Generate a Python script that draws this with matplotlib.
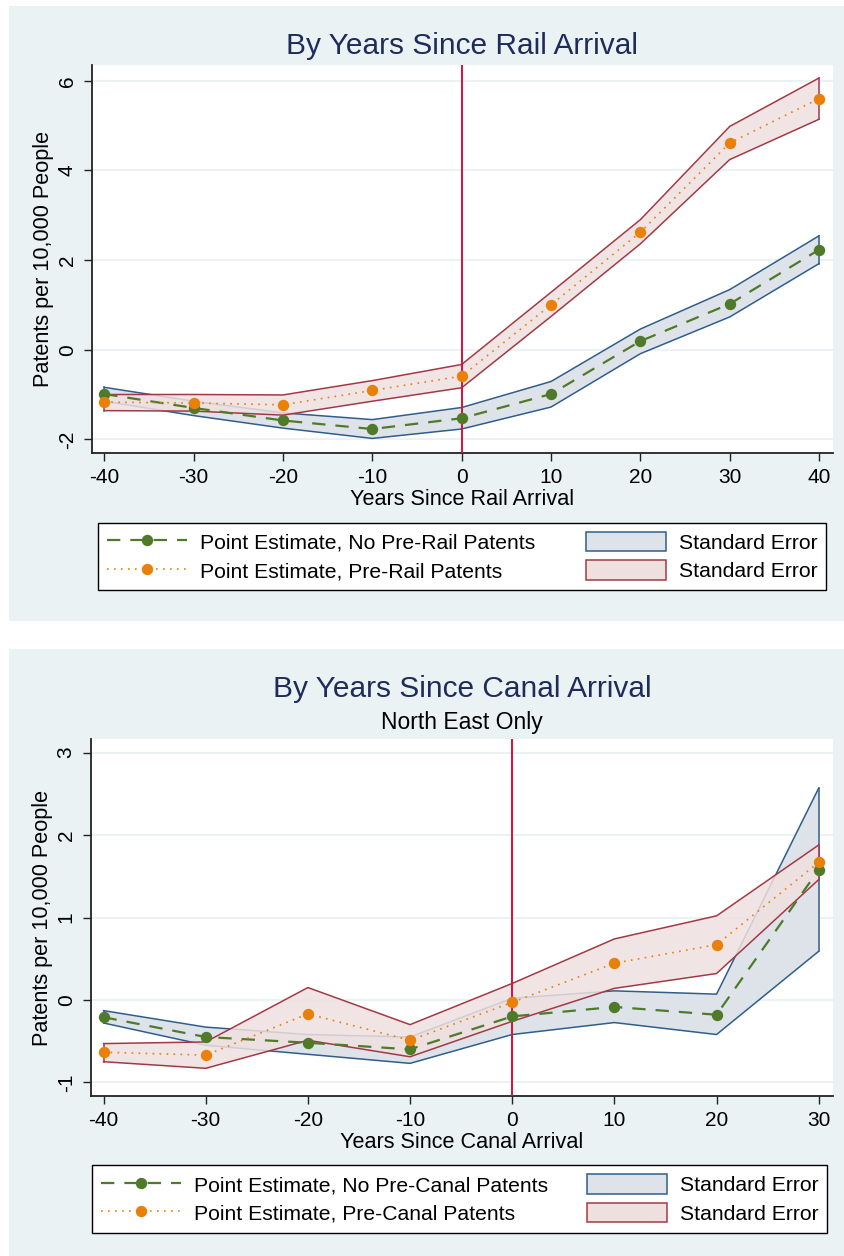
import matplotlib
matplotlib.use("Agg")
import matplotlib.pyplot as plt
from matplotlib.lines import Line2D
from matplotlib.patches import Patch, Rectangle

plt.rcParams['font.family'] = ['Liberation Sans', 'DejaVu Sans']
plt.rcParams['axes.unicode_minus'] = False

# ---------------- data: rail ----------------
rail_years = [-40, -30, -20, -10, 0, 10, 20, 30, 40]
rail_no_pre = [-0.99, -1.30, -1.58, -1.77, -1.53, -0.99, 0.19, 1.02, 2.23]
rail_no_pre_hi = [-0.84, -1.15, -1.41, -1.56, -1.29, -0.71, 0.46, 1.34, 2.54]
rail_no_pre_lo = [-1.15, -1.47, -1.75, -1.98, -1.77, -1.28, -0.09, 0.73, 1.92]
rail_pre = [-1.17, -1.19, -1.23, -0.91, -0.59, 1.00, 2.62, 4.61, 5.60]
rail_pre_hi = [-1.00, -1.00, -1.01, -0.69, -0.33, 1.28, 2.90, 4.98, 6.06]
rail_pre_lo = [-1.36, -1.37, -1.46, -1.15, -0.85, 0.74, 2.36, 4.24, 5.14]
rail_yticks = [-2, 0, 2, 4, 6]

# ---------------- data: canal ----------------
canal_years = [-40, -30, -20, -10, 0, 10, 20, 30]
canal_no_pre = [-0.21, -0.45, -0.52, -0.60, -0.20, -0.085, -0.18, 1.58]
canal_no_pre_hi = [-0.13, -0.33, -0.42, -0.45, 0.02, 0.11, 0.07, 2.57]
canal_no_pre_lo = [-0.28, -0.55, -0.66, -0.77, -0.42, -0.275, -0.42, 0.59]
canal_pre = [-0.635, -0.67, -0.17, -0.49, -0.03, 0.445, 0.67, 1.67]
canal_pre_hi = [-0.53, -0.51, 0.15, -0.30, 0.20, 0.74, 1.02, 1.88]
canal_pre_lo = [-0.75, -0.83, -0.49, -0.69, -0.26, 0.14, 0.32, 1.46]
canal_yticks = [-1, 0, 1, 2, 3]

# ---------------- style ----------------
W, H = 844, 1256
BG = '#EAF2F3'
GREEN = '#4E7A2A'
ORANGE = '#E8800A'
BLUE_EDGE = '#2F5E8C'
BLUE_FILL = '#DEE3EA'
RED_EDGE = '#A23A46'
RED_FILL = '#EFE0E0'
VLINE = '#D4123C'
TITLE = '#1E2C5A'
GRID = '#EAF2F3'

fig = plt.figure(figsize=(W / 100, H / 100), dpi=100)
fig.patch.set_facecolor('white')


def fx(x):
    return x / W


def fy(y):
    return 1 - y / H


def axes_px(l, t, r, b):
    return fig.add_axes([fx(l), fy(b), (r - l) / W, (b - t) / H])


def panel(top, bottom):
    fig.patches.append(Rectangle((fx(9), fy(bottom)), (W - 9) / W, (bottom - top) / H,
                                 transform=fig.transFigure, facecolor=BG,
                                 edgecolor='none', zorder=-10))


def draw(ax, years, a, a_hi, a_lo, b, b_hi, b_lo, xlim, ylim, yticks, xticks, xlabel):
    ax.set_facecolor('white')
    ax.fill_between(years, a_lo, a_hi, facecolor=BLUE_FILL, edgecolor='none', zorder=1)
    ax.plot(years, a_hi, color=BLUE_EDGE, lw=1.1, zorder=1.5)
    ax.plot(years, a_lo, color=BLUE_EDGE, lw=1.1, zorder=1.5)
    ax.plot([years[0]] * 2, [a_lo[0], a_hi[0]], color=BLUE_EDGE, lw=1.1, zorder=1.5)
    ax.plot([years[-1]] * 2, [a_lo[-1], a_hi[-1]], color=BLUE_EDGE, lw=1.1, zorder=1.5)
    ax.fill_between(years, b_lo, b_hi, facecolor=RED_FILL, edgecolor='none', alpha=0.85, zorder=2)
    ax.plot(years, b_hi, color=RED_EDGE, lw=1.1, zorder=2.5)
    ax.plot(years, b_lo, color=RED_EDGE, lw=1.1, zorder=2.5)
    ax.plot([years[0]] * 2, [b_lo[0], b_hi[0]], color=RED_EDGE, lw=1.1, zorder=2.5)
    ax.plot([years[-1]] * 2, [b_lo[-1], b_hi[-1]], color=RED_EDGE, lw=1.1, zorder=2.5)
    ax.axvline(0, color=VLINE, lw=1.4, zorder=3)
    ax.plot(years, a, color=GREEN, lw=1.6, ls=(0, (6, 4.5)), marker='o',
            markersize=8.2, markeredgewidth=0, zorder=5)
    ax.plot(years, b, color=ORANGE, lw=1.2, ls=(0, (1, 3.2)), marker='o',
            markersize=8.2, markeredgewidth=0, zorder=6)
    ax.set_xlim(*xlim)
    ax.set_ylim(*ylim)
    ax.set_xticks(xticks)
    ax.set_yticks(yticks)
    ax.set_yticklabels([str(t) for t in yticks], rotation=90, va='center')
    ax.grid(axis='y', color=GRID, lw=1.4, zorder=0)
    ax.set_axisbelow(True)
    for s in ['top', 'right']:
        ax.spines[s].set_visible(False)
    for s in ['left', 'bottom']:
        ax.spines[s].set_color('#222222')
        ax.spines[s].set_linewidth(1.3)
    ax.tick_params(axis='both', direction='out', length=6, width=1.0, color='#222222',
                   labelsize=15, labelcolor='black', pad=5)
    ax.set_xlabel(xlabel, fontsize=15.6, color='black', labelpad=1)
    ax.set_ylabel('Patents per 10,000 People', fontsize=15.6, color='black', labelpad=3)


def legend(ax, l, t, r, b, lab1, lab2):
    handles = [
        Line2D([], [], color=GREEN, lw=1.6, ls=(0, (6, 4.5)), marker='o', markersize=8.2, markeredgewidth=0),
        Line2D([], [], color=ORANGE, lw=1.2, ls=(0, (1, 3.2)), marker='o', markersize=8.2, markeredgewidth=0),
        Patch(facecolor=BLUE_FILL, edgecolor=BLUE_EDGE, lw=1.1),
        Patch(facecolor=RED_FILL, edgecolor=RED_EDGE, lw=1.1),
    ]
    labels = [lab1, lab2, 'Standard Error', 'Standard Error']
    leg = ax.legend(handles, labels, ncol=2, mode='expand', loc='center',
                    bbox_to_anchor=(fx(l), fy(b), (r - l) / W, (b - t) / H),
                    bbox_transform=fig.transFigure, fontsize=15.2, frameon=True,
                    fancybox=False, edgecolor='black', framealpha=1,
                    handlelength=3.8, handleheight=1.05,
                    handletextpad=0.6, labelspacing=0.36, borderpad=0.42, borderaxespad=0,
                    numpoints=1)
    leg.get_frame().set_linewidth(1.0)
    leg.get_frame().set_facecolor('white')
    return leg


# ---------------- top panel ----------------
panel(6, 621)
ax1 = axes_px(92, 65, 833, 453)
draw(ax1, rail_years, rail_no_pre, rail_no_pre_hi, rail_no_pre_lo,
     rail_pre, rail_pre_hi, rail_pre_lo,
     (-41.37, 41.56), (-2.305, 6.35), rail_yticks, rail_years, 'Years Since Rail Arrival')
fig.text(fx(462), fy(46), 'By Years Since Rail Arrival', fontsize=21.5, color=TITLE,
         ha='center', va='center')
legend(ax1, 98, 522, 826, 591, 'Point Estimate, No Pre-Rail Patents',
       'Point Estimate, Pre-Rail Patents')

# ---------------- bottom panel ----------------
panel(649, 1256)
ax2 = axes_px(91, 739, 833, 1096)
draw(ax2, canal_years, canal_no_pre, canal_no_pre_hi, canal_no_pre_lo,
     canal_pre, canal_pre_hi, canal_pre_lo,
     (-41.23, 31.4), (-1.166, 3.166), canal_yticks, canal_years, 'Years Since Canal Arrival')
fig.text(fx(462), fy(689), 'By Years Since Canal Arrival', fontsize=21.5, color=TITLE,
         ha='center', va='center')
fig.text(fx(462), fy(722), 'North East Only', fontsize=16.5, color='black',
         ha='center', va='center')
legend(ax2, 92, 1164, 827, 1234, 'Point Estimate, No Pre-Canal Patents',
       'Point Estimate, Pre-Canal Patents')

fig.savefig('out.png', dpi=100, facecolor='white')
